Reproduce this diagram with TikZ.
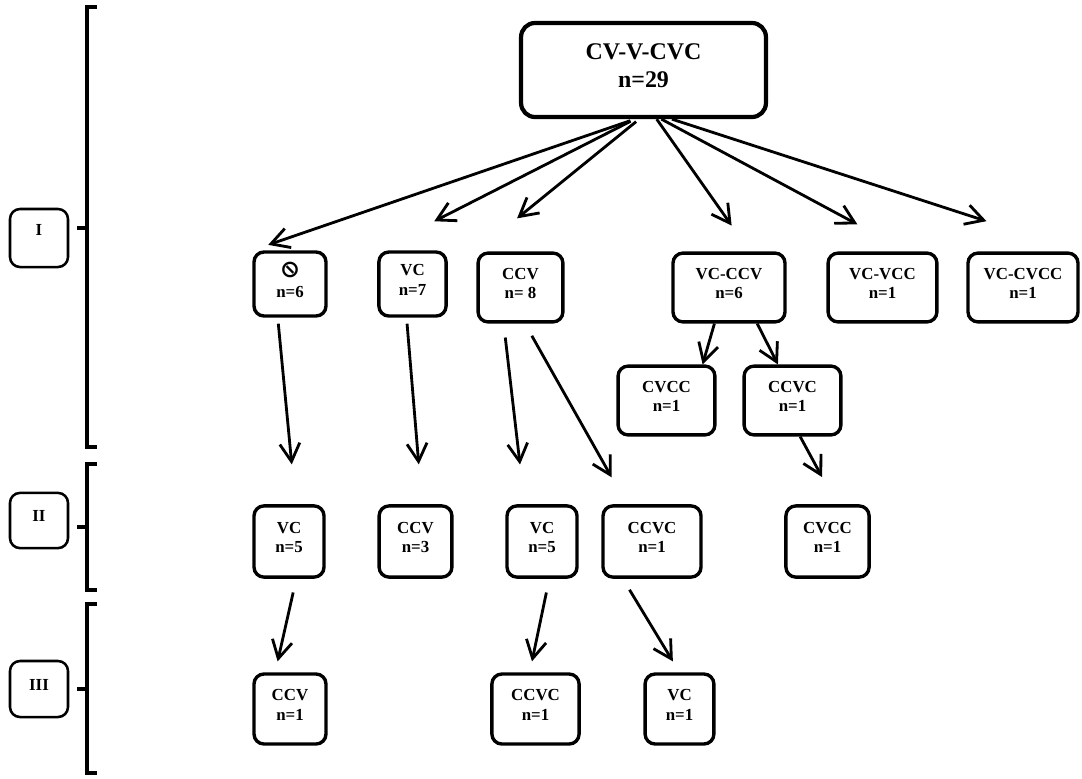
\documentclass[tikz,border=0pt]{standalone}
\usepackage{fontspec}
\setmainfont{Liberation Serif}
\newfontfamily\symfont{DejaVu Sans}
\usepackage{graphicx}
\usetikzlibrary{arrows.meta}

\begin{document}
\begin{tikzpicture}[x=0.025cm,y=-0.025cm,
   box/.style={rectangle,draw,rounded corners=0.25cm,line width=2.4pt,
    align=center,text depth=6pt,font=\bfseries\fontsize{12}{14}\selectfont},
   bigbox/.style={box,rounded corners=0.35cm,line width=3pt,
    font=\bfseries\fontsize{17}{20}\selectfont},
   lvl/.style={box,line width=1.8pt,minimum width=1.45cm},
   brk/.style={line width=2.2pt},
   >={Straight Barb[length=0.45cm,width=0.5cm]},
   arr/.style={->,line width=2pt}
    ]

    \useasboundingbox (0,0) rectangle (1082,778);

    % Top box:
    \node[bigbox,minimum width=6.12cm,minimum height=2.35cm] at (643.5,70) (top) {CV-V-CVC\\n=29};

    % Level I boxes:
    \node[box,minimum width=1.8cm,minimum height=1.6cm] at (290,284) (n0)
        {{\symfont\fontsize{17}{14}\selectfont\reflectbox{⊘}}\\n=6};
    \node[box,minimum width=1.68cm,minimum height=1.6cm] at (412.5,284) (n1) {VC\\n=7};
    \node[box,minimum width=2.12cm,minimum height=1.72cm] at (520.5,287.5) (n2) {CCV\\n= 8};
    \node[box,minimum width=2.8cm,minimum height=1.72cm] at (729,287.5) (n3) {VC-CCV\\n=6};
    \node[box,minimum width=2.72cm,minimum height=1.72cm] at (882.5,287.5) (n4) {VC-VCC\\n=1};
    \node[box,minimum width=2.75cm,minimum height=1.72cm] at (1023,287.5) (n5) {VC-CVCC\\n=1};
    \node[box,minimum width=2.42cm,minimum height=1.72cm] at (666.5,400.5) (n6) {CVCC\\n=1};
    \node[box,minimum width=2.42cm,minimum height=1.72cm] at (792.5,400.5) (n7) {CCVC\\n=1};

    % Level II boxes:
    \node[box,minimum width=1.75cm,minimum height=1.78cm] at (289,541.5) (m0) {VC\\n=5};
    \node[box,minimum width=1.82cm,minimum height=1.78cm] at (415.5,541.5) (m1) {CCV\\n=3};
    \node[box,minimum width=1.75cm,minimum height=1.78cm] at (542,541.5) (m2) {VC\\n=5};
    \node[box,minimum width=2.45cm,minimum height=1.78cm] at (652,541.5) (m3) {CCVC\\n=1};
    \node[box,minimum width=2.08cm,minimum height=1.78cm] at (827.5,541.5) (m4) {CVCC\\n=1};

    % Level III boxes:
    \node[box,minimum width=1.8cm,minimum height=1.75cm] at (290,709) (k0) {CCV\\n=1};
    \node[box,minimum width=2.18cm,minimum height=1.75cm] at (535.5,709) (k1) {CCVC\\n=1};
    \node[box,minimum width=1.72cm,minimum height=1.75cm] at (679.5,709) (k2) {VC\\n=1};

    % Levels:
    \node[lvl,minimum height=1.45cm,text depth=12pt] at (39,238) (lI) {I};
    \node[lvl,minimum height=1.38cm] at (39,520.5) (lII) {II};
    \node[lvl,minimum height=1.4cm] at (39,689) (lIII) {III};

    % brackets
    \draw[brk] (97,7) -- (87,7) -- (87,447) -- (97,447);
    \draw[brk] (77,228) -- (87,228);
    \draw[brk] (97,464) -- (87,464) -- (87,590) -- (97,590);
    \draw[brk] (77,527) -- (87,527);
    \draw[brk] (97,604) -- (87,604) -- (87,773) -- (97,773);
    \draw[brk] (77,689) -- (87,689);

    % arrows
    \draw[arr,shorten <=0.12cm,shorten >=0.42cm] (top.260) -- (n0.north west);
    \draw[arr,shorten <=0.12cm,shorten >=1.6cm] (top.260) -- (n1.north west);
    \draw[arr,shorten <=0.1cm,shorten >=1.31cm] (top.265) -- (n2.north west);
    \draw[arr,shorten >=0.79cm] (top.285) -- (n3.60);
    \draw[arr,shorten >=1.43cm] (top.290) -- (n4.55);
    \draw[arr,shorten >=2.45cm] (top.300) -- (n5.north east);

    \draw[arr,shorten <=0.15cm,shorten >=1cm] (n0.250) -- (m0.80);
    \draw[arr,shorten <=0.15cm,shorten >=1cm] (n1.260) -- (m1.80);
    \draw[arr,shorten <=0.35cm,shorten >=1cm] (n2.245) -- (m2.115);
    \draw[arr,shorten <=0.35cm,shorten >=0.77cm] (n2.277) -- (m3.124);
    \draw[arr] (n3.248) -- (n6.45);
    \draw[arr] (n3.308) -- (n7.112);
    \draw[arr,shorten >=0.77cm] (n7.282) -- (m4.76);

    \draw[arr,shorten <=0.35cm,shorten >=0.28cm] (m0.281) -- (k0.112);
    \draw[arr,shorten <=0.35cm,shorten >=0.28cm] (m2.281) -- (k1.99);
    \draw[arr,shorten <=0.32cm,shorten >=0.32cm] (m3.232) -- (k2.north);

\end{tikzpicture}
\end{document}
